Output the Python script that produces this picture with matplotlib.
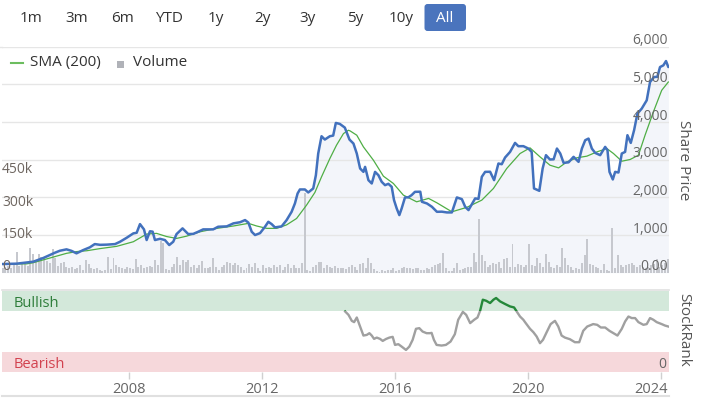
import numpy as np
import matplotlib
matplotlib.use('Agg')
import matplotlib.pyplot as plt
from matplotlib.patches import FancyBboxPatch, Rectangle
from matplotlib.lines import Line2D
import matplotlib.transforms as mtransforms

plt.rcParams['font.family'] = ['Open Sans', 'DejaVu Sans']

# ---------------- data ----------------
price_t = [2004.18, 2004.62, 2005.12, 2005.42, 2005.62, 2005.77, 2005.92, 2006.12, 2006.27, 2006.42,
           2006.62, 2006.82, 2006.97, 2007.13, 2007.33, 2007.58, 2007.73, 2007.93, 2008.13, 2008.23,
           2008.33, 2008.45, 2008.53, 2008.63, 2008.71, 2008.78, 2008.93, 2009.08, 2009.21, 2009.33,
           2009.43, 2009.61, 2009.78, 2009.93, 2010.08, 2010.23, 2010.53, 2010.68, 2010.94, 2011.14,
           2011.34, 2011.49, 2011.59, 2011.69, 2011.79, 2011.94, 2012.09, 2012.19, 2012.29, 2012.39,
           2012.59, 2012.74, 2012.89, 2012.99, 2013.07, 2013.14, 2013.29, 2013.39, 2013.54, 2013.62,
           2013.69, 2013.79, 2013.89, 2014.04, 2014.14, 2014.22, 2014.34, 2014.49, 2014.63,
           2014.75, 2014.85, 2014.95, 2015.05, 2015.10, 2015.20, 2015.30, 2015.40, 2015.50, 2015.60,
           2015.70, 2015.80, 2015.90, 2015.97, 2016.05, 2016.13, 2016.20, 2016.30, 2016.40, 2016.50,
           2016.60, 2016.76, 2016.81, 2016.96, 2017.11, 2017.26, 2017.41, 2017.56, 2017.71, 2017.86,
           2018.01, 2018.11, 2018.21, 2018.31, 2018.41, 2018.51, 2018.61, 2018.71, 2018.86, 2018.98,
           2019.11, 2019.21, 2019.31, 2019.46, 2019.61, 2019.71, 2019.86, 2020.01, 2020.11, 2020.18,
           2020.34, 2020.44, 2020.54, 2020.66, 2020.77, 2020.87, 2020.97, 2021.07, 2021.22, 2021.37,
           2021.52, 2021.62, 2021.72, 2021.82, 2021.92, 2022.02, 2022.17, 2022.32, 2022.39, 2022.45,
           2022.55, 2022.62, 2022.72, 2022.82, 2022.92, 2022.99, 2023.09, 2023.19, 2023.29, 2023.42,
           2023.57, 2023.67, 2023.79, 2023.89, 2023.97, 2024.07, 2024.15, 2024.22]
price_v = [230, 240, 292, 390, 470, 530, 583, 620, 580, 514,
           600, 673, 760, 740, 745, 760, 822, 928, 1044, 1060,
           1290, 1150, 867, 1100, 1090, 867, 900, 867, 734, 822,
           1026, 1177, 1026, 1030, 1087, 1150, 1150, 1220, 1230, 1310,
           1340, 1397, 1330, 1087, 1000, 1050, 1220, 1352, 1290, 1203,
           1230, 1397, 1617, 1840, 2104, 2210, 2210, 2130, 2237, 2589,
           3164, 3623, 3535, 3623, 3640, 3976, 3950, 3853, 3535,
           3429, 3164, 2767, 2677, 2810, 2457, 2369, 2677, 2589, 2412,
           2324, 2360, 2280, 1927, 1707, 1529, 1707, 1998, 2000, 2060,
           2147, 2150, 1882, 1838, 1750, 1617, 1620, 1600, 1600, 1998,
           1953, 1750, 1662, 1820, 1972, 1960, 2545, 2677, 2680, 2457,
           2899, 2880, 3058, 3207, 3446, 3358, 3360, 3296, 3207, 2237,
           2174, 2767, 3120, 3005, 3010, 3296, 3164, 2916, 2930, 3076,
           2943, 3296, 3517, 3561, 3296, 3181, 3120, 3340, 3252, 2677,
           2475, 2677, 2660, 3164, 3207, 3650, 3446, 3782, 4224, 4357,
           4577, 5063, 5195, 5200, 5460, 5505, 5619, 5460]

sma_t = [2004.18, 2004.92, 2005.12, 2005.62, 2006.12, 2006.42, 2006.73, 2007.13, 2007.63, 2008.13,
         2008.53, 2008.83, 2009.13, 2009.43, 2009.73, 2010.14, 2010.64, 2011.14, 2011.59, 2011.84,
         2012.14, 2012.44, 2012.74, 2013.04, 2013.34, 2013.59, 2013.79, 2014.04, 2014.24, 2014.45,
         2014.60, 2014.65, 2014.85, 2015.05, 2015.35, 2015.65, 2015.95, 2016.25, 2016.65, 2017.01,
         2017.26, 2017.71, 2018.16, 2018.61, 2018.96, 2019.36, 2019.76, 2020.06, 2020.36, 2020.66,
         2020.92, 2021.17, 2021.47, 2021.77, 2022.07, 2022.37, 2022.57, 2022.82, 2023.07, 2023.32,
         2023.52, 2023.77, 2024.02, 2024.22]
sma_v = [230, 235, 265, 390, 514, 560, 583, 640, 700, 822,
         1026, 1044, 960, 910, 970, 1087, 1177, 1240, 1310, 1240,
         1177, 1177, 1270, 1440, 1795, 2130, 2545, 3030, 3385, 3694,
         3782, 3764, 3650, 3340, 2987, 2563, 2369, 2060, 1882, 1972,
         1855, 1617, 1735, 1927, 2237, 2767, 3164, 3314, 3076, 2854,
         2783, 2943, 3050, 3094, 3207, 3296, 3164, 2960, 3005, 3120,
         3650, 4268, 4842, 5063]

vol_start = 2004.2  # first monthly bar
volume_k = [20, 25, 30, 22, 35, 98, 30, 40, 48, 30, 116, 85,
            50, 85, 74, 70, 55, 45, 108, 70, 30, 45, 50, 25,
            20, 25, 18, 22, 35, 12, 59, 40, 20, 18, 24, 12,
            10, 14, 74, 18, 66, 36, 28, 20, 18, 28, 20, 15,
            63, 28, 38, 20, 28, 32, 28, 59, 36, 147, 136, 18,
            12, 28, 42, 74, 36, 59, 50, 59, 28, 36, 20, 38,
            54, 24, 20, 28, 70, 28, 12, 28, 36, 48, 44, 36,
            43, 36, 28, 12, 20, 39, 28, 43, 20, 8, 36, 23,
            28, 23, 36, 28, 36, 12, 28, 39, 23, 36, 23, 20,
            43, 369, 12, 8, 28, 36, 48, 51, 23, 36, 28, 20,
            31, 23, 20, 23, 17, 28, 36, 28, 12, 39, 43, 23,
            70, 43, 17, 8, 5, 12, 8, 12, 12, 20, 8, 12,
            23, 28, 20, 23, 17, 20, 23, 12, 12, 20, 17, 28,
            36, 39, 43, 90, 23, 8, 8, 20, 43, 12, 17, 20,
            28, 28, 90, 51, 249, 82, 54, 28, 36, 43, 39, 51,
            20, 63, 70, 28, 132, 28, 39, 36, 28, 36, 132, 36,
            33, 70, 43, 28, 85, 51, 28, 23, 36, 28, 113, 66,
            36, 28, 12, 20, 17, 43, 82, 156, 39, 36, 28, 23,
            12, 39, 12, 8, 209, 20, 82, 36, 28, 36, 39, 43,
            36, 28, 36, 28, 23, 28, 36, 39, 63, 28, 36, 43,
            63]

rank_t = [2014.50, 2014.60, 2014.70, 2014.77, 2014.85, 2014.95, 2015.05, 2015.15, 2015.23, 2015.30,
          2015.37, 2015.45, 2015.55, 2015.63, 2015.73, 2015.83, 2015.93, 2016.00, 2016.10, 2016.20,
          2016.33, 2016.43, 2016.53, 2016.63, 2016.73, 2016.83, 2016.95, 2017.05, 2017.10, 2017.17,
          2017.25, 2017.40, 2017.53, 2017.67, 2017.80, 2017.90, 2018.04, 2018.14, 2018.26, 2018.38,
          2018.48, 2018.56, 2018.64, 2018.74, 2018.86, 2018.96, 2019.04, 2019.16, 2019.31, 2019.46,
          2019.58, 2019.66, 2019.76, 2019.86, 2019.91, 2020.06, 2020.16, 2020.26, 2020.36, 2020.45,
          2020.57, 2020.68, 2020.81, 2020.91, 2021.01, 2021.11, 2021.26, 2021.41, 2021.54, 2021.66,
          2021.78, 2021.96, 2022.08, 2022.19, 2022.32, 2022.45, 2022.57, 2022.69, 2022.82, 2022.92,
          2023.02, 2023.12, 2023.22, 2023.32, 2023.47, 2023.57, 2023.67, 2023.77, 2023.87, 2024.02,
          2024.12, 2024.22]
rank_v = [74.8, 70.7, 63.3, 61.7, 67.4, 56.3, 45.2, 46.0, 48.1, 45.2,
          41.1, 42.7, 41.1, 38.6, 41.0, 42.7, 43.6, 33.7, 34.6, 31.6,
          27.5, 31.6, 39.9, 53.5, 54.3, 50.1, 48.1, 48.1, 48.5, 39.9,
          33.7, 32.9, 33.7, 37.8, 46.9, 64.6, 74.3, 70.7, 60.5, 64.6,
          67.4, 75.7, 89.3, 88.0, 85.2, 89.3, 91.4, 87.2, 84.0, 81.0,
          79.8, 74.8, 68.6, 64.6, 61.7, 53.5, 49.4, 44.0, 35.8, 39.9,
          50.1, 59.3, 63.3, 56.3, 45.2, 42.7, 40.7, 37.0, 37.0, 51.0,
          56.3, 59.3, 58.4, 55.1, 55.1, 51.0, 48.1, 45.2, 53.5, 62.5,
          68.6, 66.7, 66.7, 61.7, 58.4, 59.3, 66.7, 64.6, 61.7, 59.3,
          57.5, 56.3]

price_ticks = [0, 1000, 2000, 3000, 4000, 5000, 6000]
price_labels = ['0.00', '1,000', '2,000', '3,000', '4,000', '5,000', '6,000']
vol_ticks = [0, 150000, 300000, 450000]
vol_labels = ['0', '150k', '300k', '450k']
year_ticks = [2008, 2012, 2016, 2020, 2024]
year_labels = ['2008', '2012', '2016', '2020', '2024']
buttons = ['1m', '3m', '6m', 'YTD', '1y', '2y', '3y', '5y', '10y', 'All']
button_x = [31, 77, 123, 169, 216, 262, 308, 355, 401, 445]

# ---------------- styling ----------------
W, H = 703, 398
XMIN, XMAX = 2004.18, 2024.24
LBL = '#666666'
GRID = '#e6e6e6'

fig = plt.figure(figsize=(W / 100, H / 100), dpi=100)
fig.patch.set_facecolor('white')


def fx(px):
    return px / W


def fy(py):
    return 1 - py / H


def px_off(dx, dy):
    return mtransforms.ScaledTranslation(dx / 100, dy / 100, fig.dpi_scale_trans)


main_rect = [fx(2), fy(272.7), fx(669) - fx(2), fy(46.7) - fy(272.7)]
ax = fig.add_axes(main_rect)
axv = fig.add_axes(main_rect, sharex=ax)
axl = fig.add_axes(main_rect, sharex=ax)
for a, z in ((ax, 0), (axv, 1), (axl, 2)):
    a.set_zorder(z)
    a.patch.set_visible(a is ax)
    for s in a.spines.values():
        s.set_visible(False)
    a.set_xticks([])
    a.set_yticks([])

ax.set_xlim(XMIN, XMAX)
ax.set_ylim(0, 6000)
axl.set_ylim(0, 6000)
axv.set_ylim(0, 1050000)

# fill and grid
ax.fill_between(price_t, price_v, 0, color='#f3f5fa', lw=0)
for v in price_ticks:
    ax.axhline(v, color=GRID, lw=1.0, zorder=1)

# volume bars
vol_t = vol_start + np.arange(len(volume_k)) / 12.0
axv.bar(vol_t, np.array(volume_k) * 1000, width=0.06, color='#c6c8ce', lw=0)

# price and SMA
axl.plot(sma_t, sma_v, color='#4fae45', lw=0.9, solid_joinstyle='round')
axl.plot(price_t, price_v, color='#4271bd', lw=1.8, solid_joinstyle='round',
         solid_capstyle='round')

# price labels (right, inside)
tr_p = mtransforms.blended_transform_factory(axl.transAxes, axl.transData) + px_off(-1, 2.5)
for v, lab in zip(price_ticks, price_labels):
    axl.text(1.0, v, lab, transform=tr_p, ha='right', va='baseline',
             fontsize=10, color=LBL, zorder=5)

# volume labels (left, inside)
tr_v = mtransforms.blended_transform_factory(axl.transAxes, axv.transData) + px_off(0, 2.5)
for v, lab in zip(vol_ticks, vol_labels):
    axl.text(0.0, v, lab, transform=tr_v, ha='left', va='baseline',
             fontsize=10, color='#6e6660', zorder=5)

fig.text(fx(684), fy(160), 'Share Price', rotation=270, ha='center', va='center',
         fontsize=11, color='#555555')

# ---------------- StockRank panel ----------------
axr = fig.add_axes([fx(2), fy(372.3), fx(669) - fx(2), fy(291) - fy(372.3)])
axr.set_xlim(XMIN, XMAX)
axr.set_ylim(0, 100)
for s in axr.spines.values():
    s.set_visible(False)
axr.axhspan(75, 100, color='#d3e8da', lw=0, zorder=0)
axr.axhspan(0, 25, color='#f6d8db', lw=0, zorder=0)
axr.axhline(101, color='#e0e0e0', lw=1.2, clip_on=False, zorder=1)

low_clip = Rectangle((XMIN, -10), XMAX - XMIN, 85, transform=axr.transData)
high_clip = Rectangle((XMIN, 75), XMAX - XMIN, 40, transform=axr.transData)
lg, = axr.plot(rank_t, rank_v, color='#a0a0a0', lw=1.7, solid_joinstyle='round', zorder=3)
lg.set_clip_path(low_clip)
lh, = axr.plot(rank_t, rank_v, color='#25883a', lw=1.7, solid_joinstyle='round', zorder=3)
lh.set_clip_path(high_clip)

band_tr = mtransforms.blended_transform_factory(axr.transAxes, axr.transData)
axr.text(0.0, 87.5, 'Bullish', transform=band_tr + px_off(12, -2), ha='left', va='center',
         fontsize=10.5, color='#2e7d3a')
axr.text(0.0, 12.5, 'Bearish', transform=band_tr + px_off(12, -2), ha='left', va='center',
         fontsize=10.5, color='#d2424f')
axr.text(1.0, 0, '0', transform=band_tr + px_off(-3, 4), ha='right', va='baseline',
         fontsize=10, color=LBL)

axr.set_yticks([])
axr.set_xticks(year_ticks)
axr.set_xticklabels(year_labels)
axr.tick_params(axis='x', direction='out', length=5, width=1, color='#d0d0d0',
                labelcolor=LBL, labelsize=10.5, pad=2)
last = axr.get_xticklabels()[-1]
last.set_ha('right')
last.set_transform(last.get_transform() + px_off(7, 0))

fig.text(fx(684), fy(330), 'StockRank', rotation=270, ha='center', va='center',
         fontsize=11, color='#555555')

# bottom scrollbar line
fig.add_artist(Line2D([fx(2), fx(669)], [fy(396), fy(396)], transform=fig.transFigure,
                      color='#e0e0e0', lw=1.5))
# top separator line
fig.add_artist(Line2D([0, fx(2)], [fy(46.7), fy(46.7)], transform=fig.transFigure,
                      color=GRID, lw=1.0))

# ---------------- legend ----------------
fig.add_artist(Line2D([fx(11), fx(23)], [fy(62.5), fy(62.5)], transform=fig.transFigure,
                      color='#6cbd5f', lw=1.5))
fig.text(fx(30), fy(62.5), 'SMA (200)', ha='left', va='center', fontsize=11, color='#333333')
fig.add_artist(Rectangle((fx(117), fy(68)), fx(7), 7 / H, transform=fig.transFigure,
                         color='#b0b2b8', lw=0))
fig.text(fx(133), fy(62.5), 'Volume', ha='left', va='center', fontsize=11, color='#333333')

# ---------------- range buttons ----------------
btn = FancyBboxPatch((4.245, (H - 31) / 100), 0.415, 0.27,
                     boxstyle='round,pad=0,rounding_size=0.03',
                     transform=fig.dpi_scale_trans, facecolor='#4a74bd', edgecolor='none')
fig.add_artist(btn)
for lab, bx in zip(buttons, button_x):
    fig.text(fx(bx), fy(18), lab, ha='center', va='center', fontsize=11,
             color='white' if lab == 'All' else '#333333')

fig.savefig('out.png', dpi=100, facecolor='white')
